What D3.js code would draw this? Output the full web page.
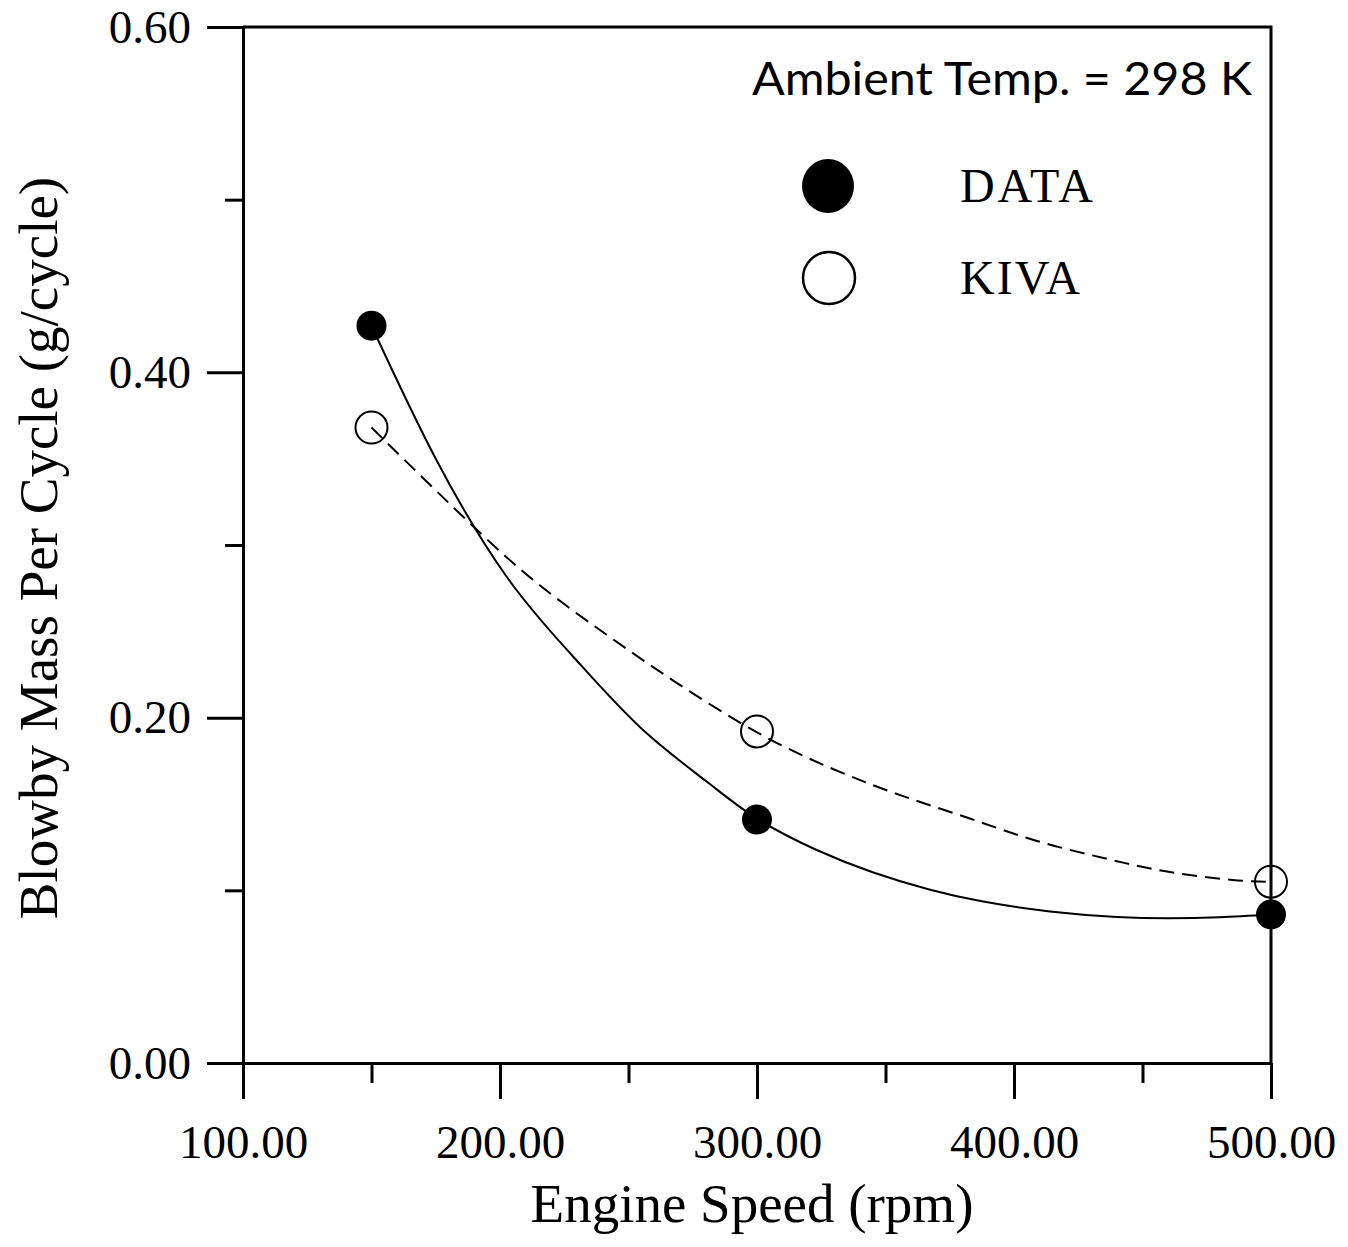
<!DOCTYPE html>
<html>
  <head>
    <meta charset='utf-8'>
    <script src='https://d3js.org/d3.v7.min.js'></script>
    <style type='text/css'>
      body { margin: 0; background: #fff; }
      .axis path, .axis line { stroke: #000; stroke-width: 3; fill: none; }
      .axis text { font: 47px 'Liberation Serif', 'Times New Roman', serif; fill: #000; }
      .title { font: 55px 'Liberation Serif', 'Times New Roman', serif; fill: #000; }
      .legend { font: 48px 'Liberation Serif', 'Times New Roman', serif; fill: #000; }
      .note { font: 46px 'Lato', sans-serif; fill: #000; }
    </style>
  </head>
  <body>
    <script type='text/javascript'>
      // measured points
      var speeds = [150, 300, 500],
        dataValues = [0.427, 0.141, 0.086],
        kivaValues = [0.368, 0.192, 0.105];

      // fitted curves as [rpm, g/cycle]
      var dataFit = [[150, 0.427], [175, 0.350], [202.6, 0.2816], [228.5, 0.2353],
        [254.5, 0.1945], [280.4, 0.1630], [300, 0.1415], [323, 0.1235], [345, 0.1105],
        [367, 0.1005], [388, 0.0935], [414, 0.0878], [440, 0.0846], [460, 0.0838],
        [480, 0.0844], [500, 0.086]];
      var kivaFit = [[150, 0.368], [189, 0.3116], [215.6, 0.2765], [241.5, 0.2480],
        [267.4, 0.2215], [300, 0.1915], [330, 0.1700], [356, 0.155], [382, 0.142],
        [408, 0.129], [434, 0.119], [459, 0.111], [485, 0.106], [500, 0.105]];

      var xMajor = [100, 200, 300, 400, 500],
        xMinor = [150, 250, 350, 450],
        yMajor = [0, 0.2, 0.4, 0.6],
        yMinor = [0.1, 0.3, 0.5];

      var w = 1348,
        h = 1247;

      var svg = d3.select('body').append('svg')
        .attr('width', w)
        .attr('height', h);

      var x = d3.scaleLinear().domain([100, 500]).range([243, 1271]);
      var y = d3.scaleLinear().domain([0, 0.6]).range([1063, 27]);

      //Axes with long major ticks and short minor ones
      svg.append('g').attr('class', 'axis')
        .attr('transform', 'translate(' + x(100) + ',0)')
        .call(d3.axisLeft(y).tickValues(yMajor).tickSize(36).tickSizeOuter(0)
          .tickPadding(16).tickFormat(d3.format('.2f')));
      svg.append('g').attr('class', 'axis')
        .attr('transform', 'translate(' + x(100) + ',0)')
        .call(d3.axisLeft(y).tickValues(yMinor).tickSize(18).tickSizeOuter(0).tickFormat(''))
        .select('.domain').remove();

      svg.append('g').attr('class', 'axis')
        .attr('transform', 'translate(0,' + y(0) + ')')
        .call(d3.axisBottom(x).tickValues(xMajor).tickSize(36).tickSizeOuter(0)
          .tickPadding(26).tickFormat(d3.format('.2f')));
      svg.append('g').attr('class', 'axis')
        .attr('transform', 'translate(0,' + y(0) + ')')
        .call(d3.axisBottom(x).tickValues(xMinor).tickSize(20).tickSizeOuter(0).tickFormat(''))
        .select('.domain').remove();

      //Top and right frame
      svg.append('path')
        .attr('d', 'M' + x(100) + ',' + y(0.6) + 'H' + x(500) + 'V' + y(0))
        .attr('fill', 'none')
        .attr('stroke', '#000')
        .attr('stroke-width', 3);

      //Axis titles
      svg.append('text').attr('class', 'title')
        .attr('x', 752)
        .attr('y', 1222)
        .attr('text-anchor', 'middle')
        .text('Engine Speed (rpm)');

      svg.append('text').attr('class', 'title')
        .attr('transform', 'translate(57,' + 548 + ') rotate(-90)')
        .attr('text-anchor', 'middle')
        .text('Blowby Mass Per Cycle (g/cycle)');

      //Fit curves
      var line = d3.line()
        .x(function(d) { return x(d[0]); })
        .y(function(d) { return y(d[1]); })
        .curve(d3.curveNatural);

      svg.append('path')
        .datum(dataFit)
        .attr('d', line)
        .attr('fill', 'none')
        .attr('stroke', '#000')
        .attr('stroke-width', 2);

      svg.append('path')
        .datum(kivaFit)
        .attr('d', line)
        .attr('fill', 'none')
        .attr('stroke', '#000')
        .attr('stroke-width', 2)
        .attr('stroke-dasharray', '15,8');

      //Markers
      svg.selectAll('.kiva').data(speeds).enter().append('circle')
        .attr('class', 'kiva')
        .attr('cx', function(d) { return x(d); })
        .attr('cy', function(d, i) { return y(kivaValues[i]); })
        .attr('r', 16)
        .attr('fill', 'none')
        .attr('stroke', '#000')
        .attr('stroke-width', 2);

      svg.selectAll('.data').data(speeds).enter().append('circle')
        .attr('class', 'data')
        .attr('cx', function(d) { return x(d); })
        .attr('cy', function(d, i) { return y(dataValues[i]); })
        .attr('r', 15)
        .attr('fill', '#000');

      //Legend
      svg.append('text').attr('class', 'note')
        .attr('x', 752)
        .attr('y', 95)
        .attr('textLength', 500)
        .attr('lengthAdjust', 'spacingAndGlyphs')
        .text('Ambient Temp. = 298 K');

      svg.append('ellipse')
        .attr('cx', 828).attr('cy', 186)
        .attr('rx', 26).attr('ry', 27)
        .attr('fill', '#000');
      svg.append('circle')
        .attr('cx', 829).attr('cy', 278)
        .attr('r', 26)
        .attr('fill', 'none')
        .attr('stroke', '#000')
        .attr('stroke-width', 2.5);

      svg.append('text').attr('class', 'legend')
        .attr('x', 960).attr('y', 202)
        .attr('textLength', 133)
        .text('DATA');
      svg.append('text').attr('class', 'legend')
        .attr('x', 960).attr('y', 294)
        .attr('textLength', 120)
        .text('KIVA');
    </script>
  </body>
</html>
